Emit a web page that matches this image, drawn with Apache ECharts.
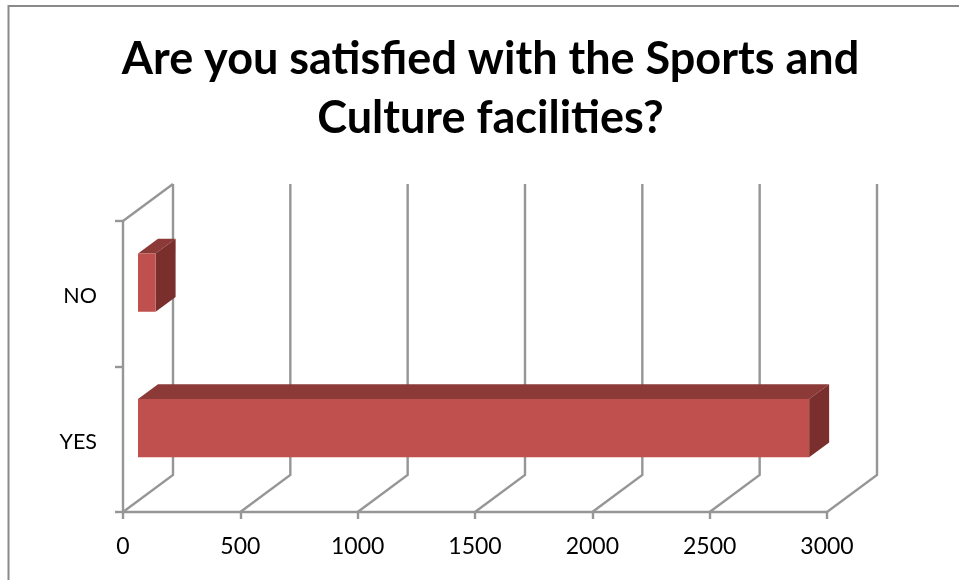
<!DOCTYPE html>
<html><head><meta charset="utf-8">
<style>html,body{margin:0;padding:0;background:#fff}#c{width:959px;height:580px}</style>
<script src="https://cdn.jsdelivr.net/npm/echarts@6/dist/echarts.min.js"></script>
</head><body><div id="c"></div>
<script>
const categories = ["YES", "NO"];
const values = [2860, 75];
const xTicks = [0, 500, 1000, 1500, 2000, 2500, 3000];
const titleText = "Are you satisfied with the Sports and\nCulture facilities?";

const DX = 50, DY = -37;
const LINE = "#969696";
const LW = 2.4;
const chart = echarts.init(document.getElementById("c"), null, {renderer: "canvas"});

function wallItem(params, api) {
  const v = api.value(0);
  const band = api.size([0, 1])[1];
  const x = api.coord([v, 0])[0];
  const bot = api.coord([v, 0])[1] + band / 2;
  const top = api.coord([v, 1])[1] - band / 2;
  const style = {stroke: LINE, lineWidth: LW, fill: "none"};
  const children = [
    {type: "polyline", shape: {points: [
      [x, bot], [x + DX, bot + DY], [x + DX, top + DY]
    ]}, style}
  ];
  if (v === 0) {
    children.push({type: "line", shape: {x1: x, y1: top, x2: x + DX, y2: top + DY}, style});
  }
  return {type: "group", children};
}

function barItem(params, api) {
  const cat = api.value(0), val = api.value(1);
  const band = api.size([0, 1])[1];
  const h = band * 0.4;
  const c0 = api.coord([0, cat]);
  const c1 = api.coord([val, cat]);
  const ox = DX * 0.3, oy = DY * 0.3;
  const dx = DX * 0.4, dy = DY * 0.4;
  const l = c0[0] + ox, r = c1[0] + ox;
  const t = c0[1] + oy - h / 2, b = t + h;
  return {type: "group", children: [
    {type: "polygon", shape: {points: [[l, t], [r, t], [r + dx, t + dy], [l + dx, t + dy]]}, style: {fill: "#8C3A38"}},
    {type: "polygon", shape: {points: [[r, t], [r + dx, t + dy], [r + dx, b + dy], [r, b]]}, style: {fill: "#7A2F2D"}},
    {type: "rect", shape: {x: l, y: t, width: r - l, height: b - t}, style: {fill: "#C0504D"}}
  ]};
}

chart.setOption({
  animation: false,
  backgroundColor: "#fff",
  title: {
    text: titleText, left: 485.5, top: 25, textAlign: "center",
    textStyle: {fontFamily: "Lato", fontWeight: "bold", fontSize: 45, lineHeight: 59, color: "#000"}
  },
  grid: {left: 123, right: 132, top: 221, bottom: 68},
  xAxis: {
    type: "value", min: 0, max: 3000, interval: 500,
    axisLine: {show: true, lineStyle: {color: LINE, width: LW}},
    axisTick: {show: true, length: 7, lineStyle: {color: LINE, width: LW}},
    axisLabel: {color: "#000", fontFamily: "Lato", fontSize: 23, margin: 23, formatter: v => String(v)},
    splitLine: {show: false}
  },
  yAxis: {
    type: "category", data: categories,
    axisLine: {show: true, lineStyle: {color: LINE, width: LW}},
    axisTick: {show: true, length: 8, lineStyle: {color: LINE, width: LW}},
    axisLabel: {
      color: "#000", fontFamily: "Lato", fontSize: 21.5, margin: 26,
      formatter: v => "{a|" + v + "}",
      rich: {a: {color: "#000", fontFamily: "Lato", fontSize: 21.5, padding: [5, 0, 0, 0]}}
    }
  },
  series: [
    {type: "custom", renderItem: wallItem, data: xTicks.map(v => [v]), encode: {x: 0}, silent: true, z: 1, clip: false},
    {type: "custom", renderItem: barItem, data: values.map((v, i) => [i, v]), encode: {y: 0, x: 1}, silent: true, z: 2, clip: false}
  ],
  graphic: [
    {type: "polyline", silent: true, shape: {points: [[8.5, 580], [8.5, 6], [959, 6]]},
      style: {fill: "none", stroke: "#8a8a8a", lineWidth: 2}}
  ]
});
</script></body></html>
